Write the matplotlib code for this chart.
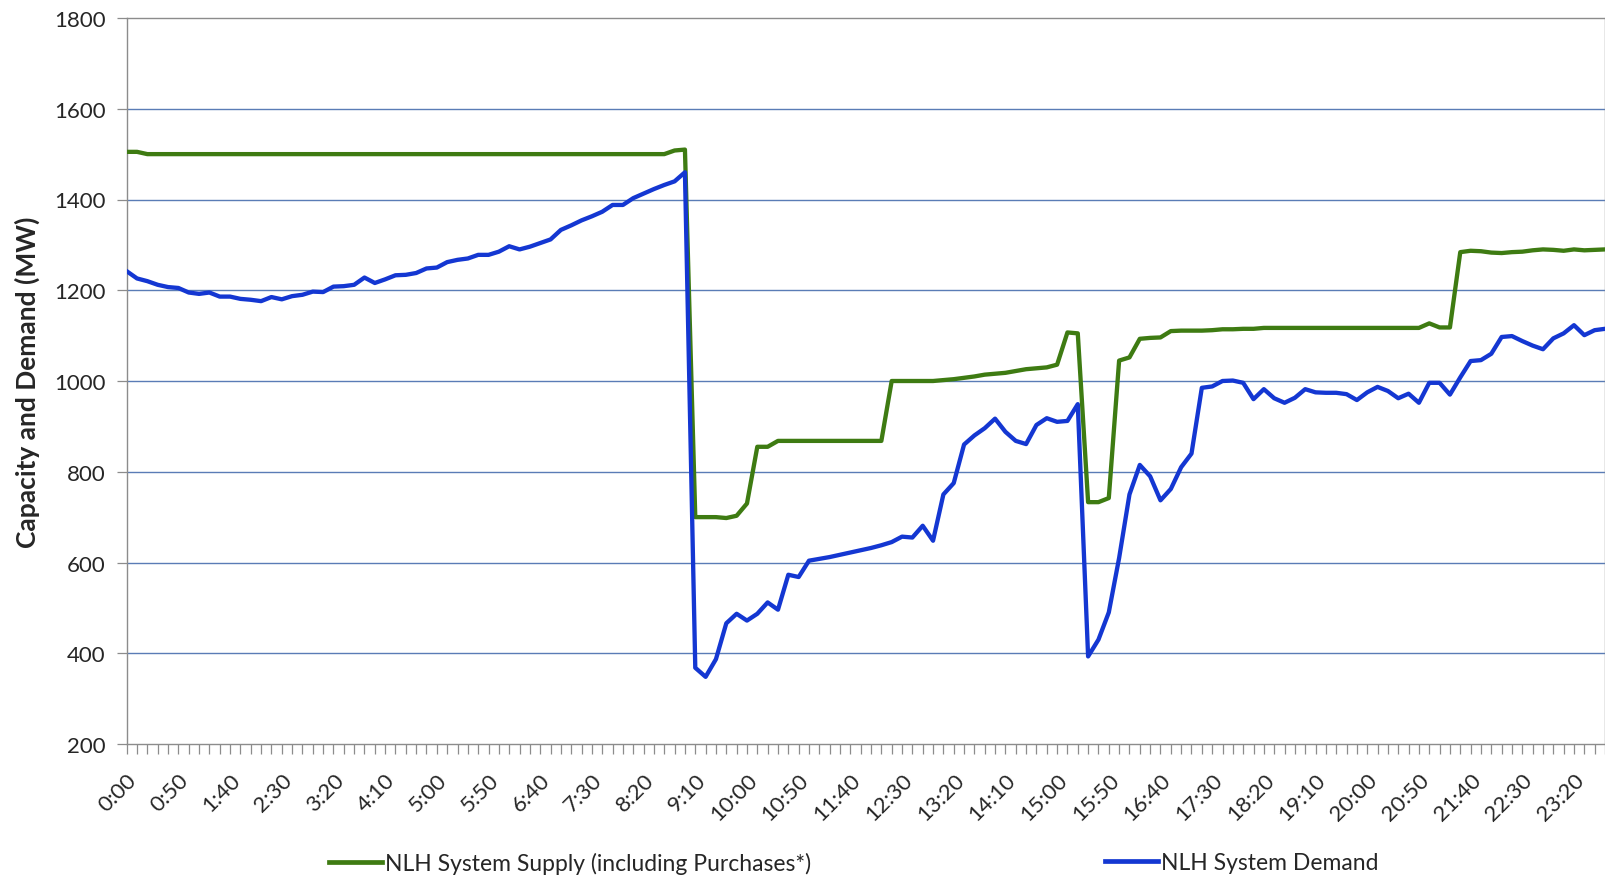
import matplotlib
matplotlib.use("Agg")
import matplotlib.pyplot as plt
from matplotlib.lines import Line2D

# ---- data ----
times = [f"{(i * 10) // 60}:{(i * 10) % 60:02d}" for i in range(144)]
tick_labels = ["0:00", "0:50", "1:40", "2:30", "3:20", "4:10", "5:00", "5:50", "6:40",
               "7:30", "8:20", "9:10", "10:00", "10:50", "11:40", "12:30", "13:20",
               "14:10", "15:00", "15:50", "16:40", "17:30", "18:20", "19:10", "20:00",
               "20:50", "21:40", "22:30", "23:20"]

supply = ([1505, 1505] + [1500] * 51 + [1508, 1510,
          700, 700, 700, 698, 703, 730,
          855, 855] + [868] * 11 + [1000] * 5 +
          [1002, 1004, 1007, 1010, 1014, 1016, 1018, 1022, 1026, 1028, 1030, 1036,
           1107, 1105,
           733, 733, 742,
           1045, 1052, 1093, 1095, 1096,
           1110, 1111, 1111, 1111, 1112, 1114, 1114, 1115, 1115] + [1117] * 16 +
          [1127, 1118, 1118,
           1284, 1287, 1286, 1283, 1282, 1284, 1285, 1288, 1290, 1289, 1287, 1290, 1288, 1289, 1290])

demand = [1242, 1226, 1220, 1212, 1207, 1205, 1195, 1192, 1195, 1186,
          1186, 1181, 1179, 1176, 1185, 1180, 1187, 1190, 1197, 1196,
          1208, 1209, 1212, 1228, 1216, 1224, 1233, 1234, 1238, 1248,
          1250, 1262, 1267, 1270, 1278, 1278, 1285, 1297, 1290, 1296,
          1304, 1312, 1333, 1343, 1354, 1363, 1373, 1388, 1388, 1403,
          1413, 1423, 1432, 1440, 1460, 368, 348, 387, 466, 487,
          472, 487, 512, 496, 573, 568, 604, 608, 612, 617,
          622, 627, 632, 638, 645, 657, 655, 681, 648, 750,
          775, 860, 880, 896, 917, 888, 868, 861, 903, 918,
          910, 912, 949, 393, 430, 490, 610, 750, 815, 790,
          737, 762, 810, 840, 985, 988, 1000, 1001, 996, 960,
          982, 962, 952, 963, 982, 975, 974, 974, 971, 958,
          975, 987, 978, 962, 972, 952, 996, 996, 970, 1008,
          1044, 1046, 1060, 1097, 1099, 1088, 1078, 1070, 1094, 1105,
          1123, 1101, 1112, 1115]

series_names = ["NLH System Supply (including Purchases*)", "NLH System Demand"]
y_ticks = [200, 400, 600, 800, 1000, 1200, 1400, 1600, 1800]

# ---- style ----
GREEN = "#3E7B12"
BLUE = "#1437D2"
GRID = "#5A7CB6"
AXIS = "#8C8C8C"
TEXT = "#262626"
FONT = "Lato"

plt.rcParams["font.family"] = [FONT, "DejaVu Sans"]

fig = plt.figure(figsize=(16.06, 8.79), dpi=100)
ax = fig.add_axes([126.7 / 1606, 1 - 745 / 879, (1605 - 126.7) / 1606, (745 - 19) / 879])

x = list(range(len(times)))
ax.plot(x, supply, color=GREEN, lw=3.1, solid_joinstyle="round", zorder=3)
ax.plot(x, demand, color=BLUE, lw=3.1, solid_joinstyle="round", zorder=4)

ax.set_xlim(0, len(times) - 1)
ax.set_ylim(200, 1800)
ax.set_yticks(y_ticks)
ax.set_yticklabels([str(v) for v in y_ticks], fontsize=16, color=TEXT)
for v in y_ticks[1:-1]:
    ax.axhline(v, color=GRID, lw=1.0, zorder=1)

major = list(range(0, len(times), 5))
ax.set_xticks(major)
ax.set_xticklabels(tick_labels, rotation=45, ha="right", va="top",
                   rotation_mode="anchor", fontsize=16, color=TEXT)
ax.set_xticks(x, minor=True)
ax.tick_params(axis="x", which="both", length=7, width=0.9, color=AXIS, direction="out", pad=11)
ax.tick_params(axis="y", length=7, width=0.9, color=AXIS, direction="out", pad=8)

for s in ["left", "bottom", "top", "right"]:
    ax.spines[s].set_color(AXIS)
    ax.spines[s].set_linewidth(1.0)

ax.set_ylabel("Capacity and Demand (MW)", fontsize=19, fontweight="bold", color=TEXT, labelpad=10)

h1 = Line2D([], [], color=GREEN, lw=3.4)
h2 = Line2D([], [], color=BLUE, lw=3.4)
leg1 = fig.legend([h1], [series_names[0]], loc="center left",
                  bbox_to_anchor=(320 / 1606, 1 - 864 / 879), frameon=False,
                  fontsize=16.5, handlelength=2.3, handletextpad=0.12, borderaxespad=0)
leg2 = fig.legend([h2], [series_names[1]], loc="center left",
                  bbox_to_anchor=(1096 / 1606, 1 - 864 / 879), frameon=False,
                  fontsize=16.5, handlelength=2.3, handletextpad=0.12, borderaxespad=0)
for lg in (leg1, leg2):
    for t in lg.get_texts():
        t.set_color(TEXT)

fig.savefig("out.png", dpi=100, facecolor="white")
